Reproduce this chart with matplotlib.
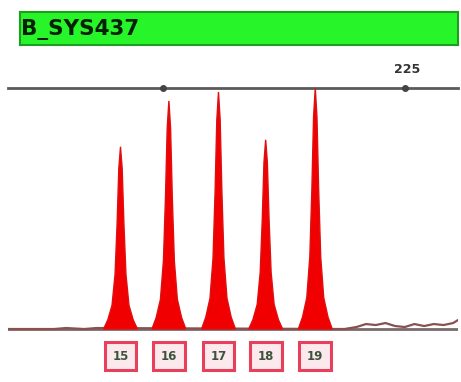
import matplotlib
matplotlib.use("Agg")
import matplotlib.pyplot as plt
from matplotlib.transforms import blended_transform_factory

W, H = 461, 382
# ---- data ----
marker_name = "B_SYS437"
allele_labels = ["15", "16", "17", "18", "19"]
peak_sizes = [201.5, 205.5, 209.6, 213.5, 217.6]      # bp
peak_heights = [183, 229, 238, 190, 242]               # RFU
# peak shape template (bp offset, fraction of height)
shape_dx = [-1.4, -1.05, -0.7, -0.45, -0.28, -0.14, 0.0, 0.14, 0.28, 0.45, 0.7, 1.05, 1.4]
shape_fr = [0.0, 0.05, 0.13, 0.3, 0.58, 0.88, 1.0, 0.88, 0.58, 0.3, 0.13, 0.05, 0.0]
# baseline noise (bp, RFU)
noise_x = [192.2, 196.0, 197.0, 198.5, 199.5, 220.0, 221.0, 221.8, 222.6, 223.4, 224.2, 225.0, 225.8, 226.6, 227.4, 228.2, 229.0, 229.4]
noise_y = [0, 0, 1, 0, 1, 0, 2, 5, 4, 6, 3, 2, 5, 3, 5, 4, 6, 9]
tick_sizes = [205, 225]
tick_labels = ["", "225"]
xlim = (192.2, 229.4)
ylim = (-6, 242)

fig = plt.figure(figsize=(W / 100, H / 100), dpi=100)
fig.patch.set_facecolor("white")

# title bar
tax = fig.add_axes([20 / W, 1 - 45 / H, 438 / W, 33 / H])
tax.set_facecolor("#27f52a")
for s in tax.spines.values():
    s.set_color("#1c9e1e")
    s.set_linewidth(1.5)
tax.set_xticks([]); tax.set_yticks([])
tax.text(0.003, 0.48, marker_name, transform=tax.transAxes, ha="left", va="center",
         fontsize=15.5, fontweight="heavy", color="#062006", family="DejaVu Sans")

# main trace axes
ax = fig.add_axes([8 / W, 1 - 335 / H, 450 / W, (335 - 88) / H])
ax.set_xlim(*xlim)
ax.set_ylim(*ylim)
for k in ["left", "right", "bottom"]:
    ax.spines[k].set_visible(False)
ax.spines["top"].set_color("#5a5a5a")
ax.spines["top"].set_linewidth(2)
ax.set_xticks([]); ax.set_yticks([])

# baseline
ax.plot([xlim[0], xlim[1]], [0, 0], color="#7a6a6a", lw=2, zorder=1)
ax.plot(noise_x, noise_y, color="#8a5050", lw=1.6, zorder=2)

for c, h in zip(peak_sizes, peak_heights):
    xs = [c + d for d in shape_dx]
    ys = [h * f for f in shape_fr]
    ax.fill(xs, ys, color="#f00000", lw=1.0, ec="#e01010", zorder=3)

# top ticks
for t, lab in zip(tick_sizes, tick_labels):
    ax.plot([t], [ylim[1]], marker="o", ms=4, color="#444444", clip_on=False, zorder=5)
    if lab:
        ax.text(t + 0.2, ylim[1] + 12, lab, ha="center", va="bottom", fontsize=9,
                fontweight="bold", color="#333333")

# allele label boxes
trans = blended_transform_factory(ax.transData, fig.transFigure)
for c, lab in zip(peak_sizes, allele_labels):
    ax.text(c, 1 - 356 / H, lab, transform=trans, ha="center", va="center", fontsize=8.5,
            fontweight="bold", color="#3a553a", clip_on=False,
            bbox=dict(boxstyle="square,pad=0.65", fc="#fbe9ee", ec="#e8405a", lw=2.2))

fig.savefig("out.png", dpi=100)
